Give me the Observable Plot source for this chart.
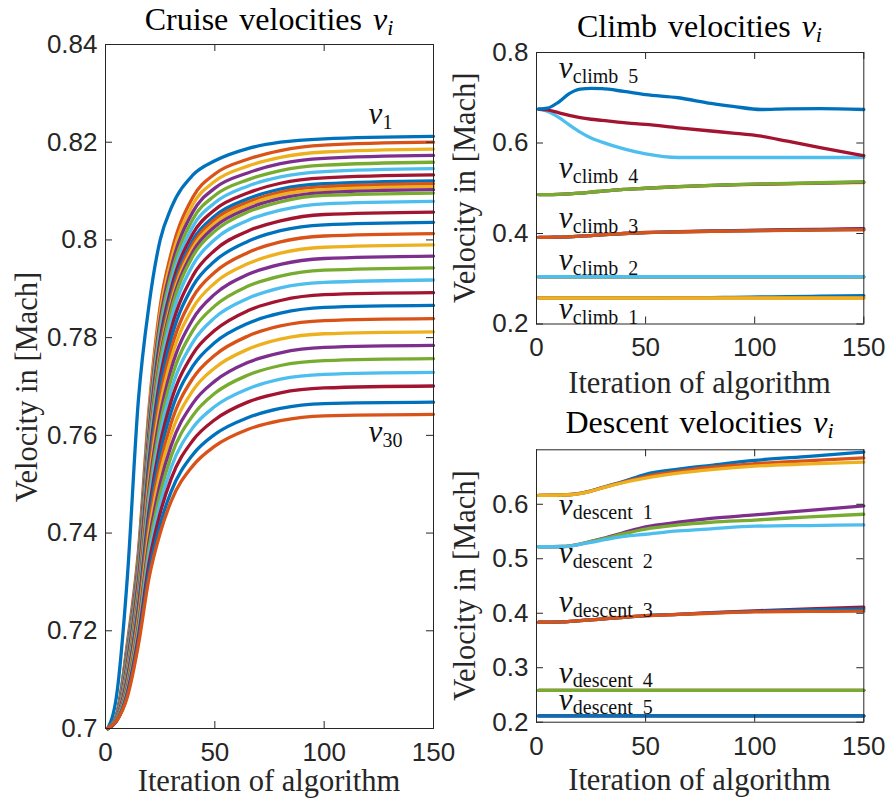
<!DOCTYPE html>
<html><head><meta charset="utf-8">
<script src="https://cdn.jsdelivr.net/npm/d3@7"></script>
<script src="https://cdn.jsdelivr.net/npm/@observablehq/plot@0.6"></script>
<style>
html,body{margin:0;padding:0;background:#fff;}
#fig{position:relative;width:889px;height:801px;overflow:hidden;background:#fff;}
#fig > svg{position:absolute;}
</style></head><body><div id="fig"></div>
<script>
// MATLAB default colour order (style)
const matlabColors = ["#0072BD","#D95319","#EDB120","#7E2F8E","#77AC30","#4DBEEE","#A2142F"];

// ---------- Cruise velocities (30 series) ----------
const cruiseIter = [1,5,10,15,20,25,30,40,50,65,80,100,150];
const cruiseV = [
 [.7,.7065,.731,.767,.787,.8,.8065,.8133,.8162,.8187,.82,.8207,.8212],
 [.7,.7025,.7175,.736,.766,.7864,.7972,.8088,.8135,.8165,.8183,.8194,.82],
 [.7,.7026,.7171,.7354,.7649,.785,.7957,.8073,.812,.8151,.8169,.818,.8186],
 [.7,.7026,.7168,.7349,.764,.7836,.7943,.8058,.8106,.8137,.8156,.8167,.8173],
 [.7,.7025,.7164,.7343,.7629,.7822,.7928,.8043,.8091,.8123,.8142,.8153,.8159],
 [.7,.7025,.716,.7338,.7619,.7809,.7914,.8028,.8076,.811,.8129,.814,.8146],
 [.7,.7025,.7156,.7333,.7609,.7796,.79,.8013,.8062,.8096,.8116,.8127,.8133],
 [.7,.7025,.7153,.7328,.76,.7784,.7887,.8,.8049,.8084,.8104,.8115,.8121],
 [.7,.7025,.715,.7324,.7594,.7775,.7879,.7992,.8042,.8077,.8098,.8109,.8115],
 [.7,.7024,.7148,.7321,.7588,.7767,.7871,.7984,.8034,.8071,.8092,.8103,.8109],
 [.7,.7024,.7145,.7318,.7583,.7759,.7863,.7976,.8027,.8064,.8085,.8097,.8103],
 [.7,.7024,.7142,.7315,.7576,.7751,.7854,.7967,.8018,.8057,.8078,.8091,.8096],
 [.7,.7024,.7138,.7308,.7565,.7735,.7837,.7949,.8001,.804,.8061,.8074,.8079],
 [.7,.7023,.7134,.7301,.755,.7717,.7817,.7927,.7979,.8018,.8039,.8052,.8057],
 [.7,.7023,.713,.7293,.7537,.7699,.7797,.7906,.7957,.7997,.8019,.8031,.8036],
 [.7,.7022,.7125,.7286,.7523,.768,.7776,.7883,.7934,.7974,.7996,.8008,.8013],
 [.7,.7022,.7121,.7278,.7508,.7661,.7756,.7861,.7912,.7951,.7973,.7985,.799],
 [.7,.7021,.7116,.727,.7494,.7642,.7735,.7838,.7889,.7929,.795,.7962,.7967],
 [.7,.7021,.7112,.7262,.748,.7623,.7714,.7815,.7865,.7905,.7926,.7938,.7943],
 [.7,.702,.7108,.7254,.7465,.7603,.7692,.7791,.7841,.788,.7902,.7913,.7918],
 [.7,.702,.7103,.7246,.7449,.7583,.767,.7767,.7815,.7855,.7876,.7888,.7892],
 [.7,.7019,.7099,.7238,.7434,.7563,.7648,.7742,.779,.7829,.785,.7862,.7866],
 [.7,.7018,.7094,.7229,.7419,.7542,.7625,.7717,.7764,.7803,.7824,.7835,.7839],
 [.7,.7018,.709,.7221,.7403,.7522,.7602,.7692,.7738,.7776,.7797,.7808,.7812],
 [.7,.7017,.7086,.7212,.7387,.7501,.7579,.7666,.7711,.7749,.7769,.778,.7784],
 [.7,.7017,.7081,.7204,.7372,.7481,.7557,.7641,.7686,.7723,.7743,.7753,.7757],
 [.7,.7016,.7077,.7195,.7357,.7461,.7534,.7616,.7659,.7695,.7715,.7725,.7729],
 [.7,.7015,.7073,.7187,.7341,.7441,.7511,.759,.7632,.7668,.7687,.7697,.7701],
 [.7,.7015,.7069,.7177,.7324,.7418,.7485,.7561,.7602,.7636,.7655,.7665,.7668],
 [.7,.7015,.7065,.717,.731,.74,.7465,.7538,.7578,.7612,.763,.764,.7643]
];
const cruiseTicks = [0.7,0.72,0.74,0.76,0.78,0.8,0.82,0.84];

// ---------- Climb velocities (5 phases x 3 lines) ----------
const climbIter = [1,5,10,15,20,25,30,40,50,65,80,90,103,115,130,150];
const climbV = [
 [.258,.258,.258,.258,.258,.258,.258,.258,.258,.2582,.2585,.259,.2598,.2606,.2614,.2624],
 [.2577,.2577,.2577,.2577,.2577,.2577,.2577,.2577,.2577,.2577,.2577,.2577,.2577,.2577,.2577,.2577],
 [.2575,.2575,.2575,.2575,.2575,.2575,.2575,.2575,.2575,.2575,.2575,.2575,.2575,.2575,.2575,.2575],
 [.304,.304,.304,.304,.304,.304,.304,.304,.304,.304,.304,.304,.304,.304,.304,.304],
 [.3043,.3043,.3043,.3043,.3043,.3043,.3043,.3043,.3043,.3043,.3043,.3043,.3043,.3043,.3043,.3043],
 [.3046,.3046,.3046,.3046,.3046,.3046,.3046,.3046,.3046,.3046,.3046,.3046,.3046,.3046,.3046,.3046],
 [.3915,.3915,.392,.3925,.394,.3955,.397,.4,.4022,.404,.4055,.4063,.4073,.4083,.4093,.4105],
 [.3915,.3915,.392,.3925,.394,.3955,.397,.4,.402,.4035,.405,.4057,.4066,.4073,.408,.409],
 [.3915,.3915,.392,.3925,.394,.3955,.397,.4,.402,.4033,.4047,.4054,.4062,.4069,.4075,.408],
 [.486,.486,.4865,.4875,.489,.4915,.4935,.4975,.5,.5033,.506,.5073,.5088,.5097,.5108,.5125],
 [.486,.486,.4865,.4875,.489,.4915,.4935,.4975,.5,.5034,.5063,.5077,.5092,.5102,.5116,.5135],
 [.486,.486,.4865,.4875,.489,.4915,.4935,.4975,.5,.5035,.5065,.508,.5095,.5105,.5122,.5145],
 [.675,.67,.657,.64,.624,.611,.602,.587,.576,.568,.568,.568,.568,.568,.568,.568],
 [.675,.673,.667,.661,.656,.6525,.65,.645,.641,.6335,.6265,.622,.615,.604,.59,.572],
 [.675,.677,.69,.709,.719,.7205,.72,.714,.707,.7,.6875,.681,.674,.6755,.676,.674]
];
const climbTicks = [0.2,0.4,0.6,0.8];
const climbNames = ["climb\u00a0\u00a01","climb\u00a0\u00a02","climb\u00a0\u00a03","climb\u00a0\u00a04","climb\u00a0\u00a05"];

// ---------- Descent velocities (5 phases x 3 lines) ----------
const descentIter = [1,12,20,25,32,40,50,65,80,100,125,150];
const descentV = [
 [.6165,.617,.62,.6245,.633,.642,.655,.6645,.6715,.6805,.688,.6957],
 [.6165,.617,.62,.6243,.6325,.641,.651,.6605,.668,.6745,.68,.685],
 [.6165,.617,.6195,.624,.632,.64,.648,.657,.6635,.67,.674,.6775],
 [.522,.5225,.527,.532,.539,.548,.5585,.567,.574,.5805,.589,.597],
 [.522,.5225,.527,.5315,.538,.546,.5545,.562,.567,.571,.577,.5817],
 [.522,.5222,.5265,.53,.5355,.541,.545,.551,.555,.5598,.561,.5622],
 [.3835,.384,.3865,.388,.39,.3925,.3957,.398,.401,.4045,.408,.411],
 [.3835,.384,.3865,.388,.39,.3925,.3957,.398,.4005,.4035,.406,.408],
 [.3835,.384,.3865,.388,.39,.3925,.3955,.3978,.4,.4025,.4033,.4037],
 [.2585,.2585,.2585,.2585,.2585,.2585,.2585,.2585,.2585,.2585,.2585,.2585],
 [.2585,.2585,.2585,.2585,.2585,.2585,.2585,.2585,.2585,.2585,.2585,.2585],
 [.2585,.2585,.2585,.2585,.2585,.2585,.2585,.2585,.2585,.2585,.2585,.2585],
 [.2118,.2118,.2118,.2118,.2118,.2118,.2118,.2118,.2118,.2118,.2118,.2118],
 [.2115,.2115,.2115,.2115,.2115,.2115,.2115,.2115,.2115,.2115,.2115,.2115],
 [.2115,.2115,.2115,.2115,.2115,.2115,.2115,.2115,.2115,.2115,.2115,.2115]
];
const descentTicks = [0.2,0.3,0.4,0.5,0.6];
const descentNames = ["descent\u00a0\u00a01","descent\u00a0\u00a02","descent\u00a0\u00a03","descent\u00a0\u00a04","descent\u00a0\u00a05"];

const xTicks = [0,50,100,150];

// annotation anchors (data coordinates)
const cruiseTags = [{sub:"1", x:120.3, y:0.8237},{sub:"30", x:120.3, y:0.7586}];
const climbTags = [
  {sub:climbNames[4], x:10.2, y:0.7426},{sub:climbNames[3], x:10.2, y:0.5218},
  {sub:climbNames[2], x:10.2, y:0.4113},{sub:climbNames[1], x:10.2, y:0.3193},
  {sub:climbNames[0], x:10.2, y:0.2104}];
const descentTags = [
  {sub:descentNames[0], x:10.2, y:0.5805},{sub:descentNames[1], x:10.2, y:0.4914},
  {sub:descentNames[2], x:10.2, y:0.4018},{sub:descentNames[3], x:10.2, y:0.2726},
  {sub:descentNames[4], x:10.2, y:0.2232}];

function rowsFrom(iters, series) {
  const out = [];
  series.forEach((vals, k) => vals.forEach((v, j) => out.push({s:k, it:iters[j], v, c:matlabColors[k % 7]})));
  return out;
}

const AX = "#262626";
const SERIF = "'Liberation Serif','Times New Roman',serif";
const fmt = d3.format("~g");
const TICK = 7;

function panel({rows, yDomain, yTicks, width, height, mL, mR, mT, mB, tags, subDx}) {
  const pw = width - mL - mR, ph = height - mT - mB;
  return Plot.plot({
    width, height, marginLeft:mL, marginRight:mR, marginTop:mT, marginBottom:mB,
    style:{fontFamily:"'Liberation Sans',Arial,sans-serif", fontSize:"26px", color:AX, background:"transparent", overflow:"visible"},
    x:{domain:[0,150]},
    y:{domain:yDomain},
    color:{type:"identity"},
    marks:[
      Plot.line(rows, {x:"it", y:"v", z:"s", stroke:"c", strokeWidth:3.3, curve:"monotone-x"}),
      Plot.frame({stroke:AX, strokeWidth:1}),
      // inward tick marks on all four sides
      Plot.tickX(xTicks, {x:d => d, insetTop:ph - TICK, stroke:AX, strokeWidth:1}),
      Plot.tickX(xTicks, {x:d => d, insetBottom:ph - TICK, stroke:AX, strokeWidth:1}),
      Plot.tickY(yTicks, {y:d => d, insetRight:pw - TICK, stroke:AX, strokeWidth:1}),
      Plot.tickY(yTicks, {y:d => d, insetLeft:pw - TICK, stroke:AX, strokeWidth:1}),
      Plot.axisX(xTicks, {anchor:"bottom", tickSize:0, tickPadding:14, label:null, fill:AX}),
      Plot.axisY(yTicks, {anchor:"left", tickSize:0, tickPadding:8, tickFormat:fmt, label:null, fill:AX}),
      Plot.text(tags, {x:"x", y:"y", text:() => "v", fontFamily:SERIF, fontStyle:"italic", fontSize:31, textAnchor:"start", lineAnchor:"bottom", fill:"#111"}),
      Plot.text(tags, {x:"x", y:"y", text:"sub", dx:subDx, dy:4.5, fontFamily:SERIF, fontSize:20, textAnchor:"start", lineAnchor:"bottom", fill:"#111"})
    ]
  });
}

const fig = document.getElementById("fig");

const left = panel({rows:rowsFrom(cruiseIter, cruiseV), yDomain:[0.7,0.84], yTicks:cruiseTicks,
  width:455, height:801, mL:105, mR:22, mT:44, mB:73, tags:cruiseTags, subDx:14});
left.style.left = "0px"; left.style.top = "0px";
fig.appendChild(left);

const climb = panel({rows:rowsFrom(climbIter, climbV), yDomain:[0.2,0.8], yTicks:climbTicks,
  width:429, height:400, mL:76, mR:25.7, mT:52, mB:76.5, tags:climbTags, subDx:14});
climb.style.left = "460px"; climb.style.top = "0px";
fig.appendChild(climb);

const descent = panel({rows:rowsFrom(descentIter, descentV), yDomain:[0.2,0.7], yTicks:descentTicks,
  width:429, height:401, mL:76, mR:25.7, mT:49.3, mB:79.3, tags:descentTags, subDx:14});
descent.style.left = "460px"; descent.style.top = "400px";
fig.appendChild(descent);

// overlay: titles and axis labels
const ns = "http://www.w3.org/2000/svg";
const ov = document.createElementNS(ns, "svg");
ov.setAttribute("width", 889); ov.setAttribute("height", 801);
ov.style.left = "0px"; ov.style.top = "0px"; ov.style.pointerEvents = "none";
fig.appendChild(ov);

function addText(parent, x, y, parts, opts) {
  const t = document.createElementNS(ns, "text");
  t.setAttribute("x", x); t.setAttribute("y", y);
  t.setAttribute("text-anchor", "middle");
  t.setAttribute("font-family", SERIF);
  t.setAttribute("font-size", opts.size);
  t.setAttribute("fill", opts.fill);
  if (opts.wordSpacing) t.setAttribute("word-spacing", opts.wordSpacing);
  if (opts.transform) t.setAttribute("transform", opts.transform);
  for (const p of parts) {
    const s = document.createElementNS(ns, "tspan");
    s.textContent = p.t;
    if (p.italic) s.setAttribute("font-style", "italic");
    if (p.size) s.setAttribute("font-size", p.size);
    if (p.dy) s.setAttribute("dy", p.dy);
    t.appendChild(s);
  }
  parent.appendChild(t);
  return t;
}
const titleParts = (w) => [{t:w + " velocities "}, {t:"v", italic:true}, {t:"i", italic:true, size:22, dy:5}];
addText(ov, 269, 30, titleParts("Cruise"), {size:32, fill:"#000", wordSpacing:3});
addText(ov, 699.5, 36.7, titleParts("Climb"), {size:32, fill:"#000", wordSpacing:3});
addText(ov, 699.5, 433.3, titleParts("Descent"), {size:32, fill:"#000", wordSpacing:3});

addText(ov, 269, 791, [{t:"Iteration of algorithm"}], {size:30.5, fill:AX});
addText(ov, 699.5, 392.5, [{t:"Iteration of algorithm"}], {size:30.5, fill:AX});
addText(ov, 699.5, 790, [{t:"Iteration of algorithm"}], {size:30.5, fill:AX});

addText(ov, 0, 0, [{t:"Velocity in [Mach]"}], {size:30.5, fill:AX, transform:"translate(37,387) rotate(-90)"});
addText(ov, 0, 0, [{t:"Velocity in [Mach]"}], {size:30.5, fill:AX, transform:"translate(475,187.7) rotate(-90)"});
addText(ov, 0, 0, [{t:"Velocity in [Mach]"}], {size:30.5, fill:AX, transform:"translate(475,585.5) rotate(-90)"});
</script>
</body></html>
